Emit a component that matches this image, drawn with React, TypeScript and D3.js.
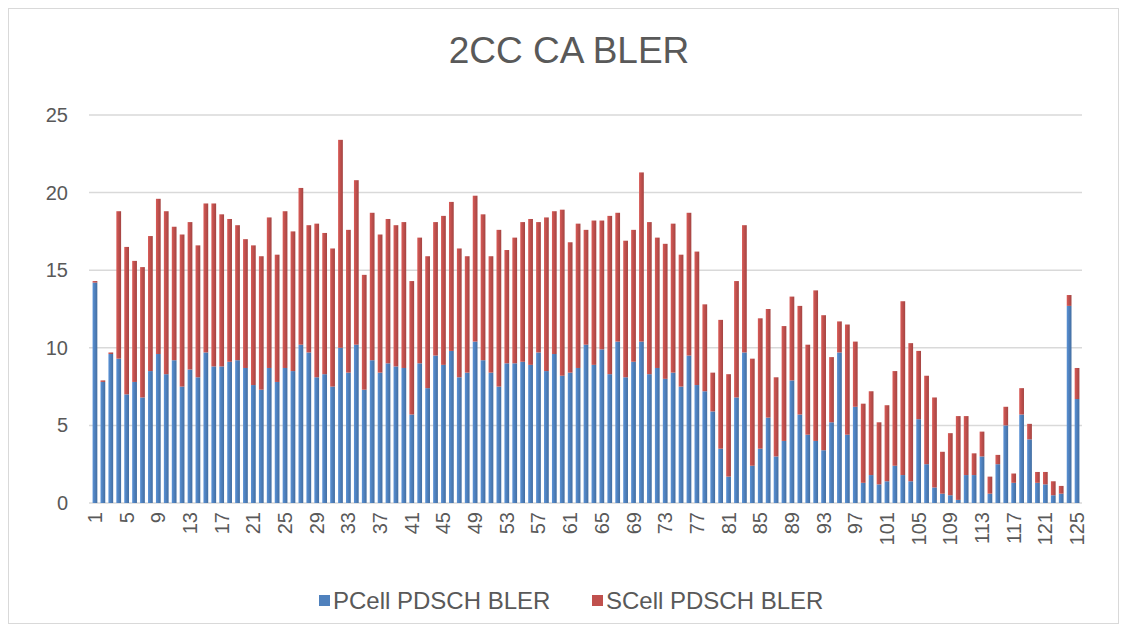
import React, { useEffect, useRef } from "react";
import * as d3 from "d3";

const categories: string[] = Array.from({ length: 125 }, (_, i) => String(i + 1));

const pcell: number[] = [
  14.2, 7.8, 9.6, 9.3, 7.0, 7.8, 6.8, 8.5, 9.6, 8.3,
  9.2, 7.5, 8.6, 8.1, 9.7, 8.8, 8.8, 9.1, 9.2, 8.7,
  7.6, 7.3, 8.7, 7.8, 8.7, 8.5, 10.2, 9.7, 8.1, 8.3,
  7.5, 10.0, 8.4, 10.2, 7.3, 9.2, 8.4, 9.0, 8.8, 8.7,
  5.7, 9.0, 7.4, 9.5, 8.9, 9.8, 8.1, 8.4, 10.4, 9.2,
  8.4, 7.5, 9.0, 9.0, 9.1, 8.9, 9.7, 8.5, 9.6, 8.2,
  8.4, 8.7, 10.2, 8.9, 9.9, 8.3, 10.4, 8.1, 9.1, 10.4,
  8.3, 8.7, 8.0, 8.4, 7.5, 9.5, 7.6, 7.2, 5.9, 3.5,
  1.7, 6.8, 9.7, 2.4, 3.5, 5.5, 3.0, 4.0, 7.9, 5.7,
  4.4, 4.0, 3.4, 5.2, 9.7, 4.4, 6.2, 1.3, 1.8, 1.2,
  1.4, 2.4, 1.8, 1.4, 5.4, 2.5, 1.0, 0.6, 0.5, 0.2,
  1.8, 1.8, 3.0, 0.6, 2.5, 5.0, 1.3, 5.7, 4.1, 1.3,
  1.2, 0.5, 0.6, 12.7, 6.7,
];

const scell: number[] = [
  0.1, 0.1, 0.1, 9.5, 9.5, 7.8, 8.4, 8.7, 10.0, 10.5,
  8.6, 9.8, 9.5, 8.5, 9.6, 10.5, 9.8, 9.2, 8.7, 8.3,
  9.0, 8.6, 9.7, 8.2, 10.1, 9.0, 10.1, 8.2, 9.9, 9.1,
  8.9, 13.4, 9.2, 10.6, 7.4, 9.5, 8.9, 9.3, 9.1, 9.4,
  8.6, 8.1, 8.5, 8.6, 9.6, 9.6, 8.3, 7.5, 9.4, 9.4,
  7.5, 10.1, 7.3, 8.1, 9.0, 9.4, 8.4, 9.9, 9.2, 10.7,
  8.4, 9.3, 7.4, 9.3, 8.3, 10.2, 8.3, 8.8, 8.5, 10.9,
  9.8, 8.4, 8.7, 9.6, 8.5, 9.2, 8.6, 5.6, 2.5, 8.3,
  6.6, 7.5, 8.2, 6.9, 8.4, 7.0, 5.1, 7.4, 5.4, 7.0,
  5.8, 9.7, 8.7, 4.2, 2.0, 7.1, 4.2, 5.1, 5.4, 4.0,
  4.9, 6.1, 11.2, 8.9, 4.4, 5.7, 5.8, 2.7, 4.0, 5.4,
  3.8, 1.4, 1.6, 1.1, 0.6, 1.2, 0.6, 1.7, 1.0, 0.7,
  0.8, 0.9, 0.5, 0.7, 2.0,
];

const yTicks: number[] = [0, 5, 10, 15, 20, 25];
const seriesNames: string[] = ["PCell PDSCH BLER", "SCell PDSCH BLER"];
const title = "2CC CA BLER";

const W = 1127;
const H = 632;
const FONT = "'Liberation Sans', Arial, sans-serif";
const TEXT = "#595959";

export default function App() {
  const ref = useRef<SVGSVGElement | null>(null);

  useEffect(() => {
    const svg = d3.select(ref.current);
    svg.selectAll("*").remove();

    const defs = svg.append("defs");
    const mkGrad = (id: string, c: string) => {
      const g = defs.append("linearGradient").attr("id", id).attr("x1", "0").attr("x2", "1").attr("y1", "0").attr("y2", "0");
      const base = d3.color(c)!;
      g.append("stop").attr("offset", "0%").attr("stop-color", base.brighter(0.35).toString());
      g.append("stop").attr("offset", "45%").attr("stop-color", c);
      g.append("stop").attr("offset", "100%").attr("stop-color", base.darker(0.45).toString());
    };
    mkGrad("gBlue", "#4f81bd");
    mkGrad("gRed", "#c0504d");

    // chart border
    svg.append("rect")
      .attr("x", 8.5).attr("y", 8.5).attr("width", 1110).attr("height", 615)
      .attr("fill", "#ffffff").attr("stroke", "#d9d9d9").attr("stroke-width", 1);

    const x = d3.scaleBand<string>().domain(categories).range([91, 1081]).paddingInner(0.4).paddingOuter(0.2);
    const y = d3.scaleLinear().domain([0, 25]).range([503, 115]);

    // gridlines
    svg.append("g").selectAll("line").data(yTicks).join("line")
      .attr("x1", 89).attr("x2", 1082)
      .attr("y1", (d) => y(d)).attr("y2", (d) => y(d))
      .attr("stroke", "#d9d9d9").attr("stroke-width", 1.5);

    // y labels
    svg.append("g").selectAll("text").data(yTicks).join("text")
      .attr("x", 68).attr("y", (d) => y(d)).attr("dy", "0.35em")
      .attr("text-anchor", "end").attr("font-family", FONT).attr("font-size", 20)
      .attr("fill", TEXT).text((d) => String(d));

    // bars
    const rows = categories.map((c, i) => ({ c, p: pcell[i], s: scell[i] }));
    const bw = x.bandwidth();
    svg.append("g").selectAll("rect").data(rows).join("rect")
      .attr("x", (d) => x(d.c)!).attr("width", bw)
      .attr("y", (d) => y(d.p)).attr("height", (d) => y(0) - y(d.p))
      .attr("fill", "url(#gBlue)");
    svg.append("g").selectAll("rect").data(rows).join("rect")
      .attr("x", (d) => x(d.c)!).attr("width", bw)
      .attr("y", (d) => y(d.p + d.s)).attr("height", (d) => y(d.p) - y(d.p + d.s))
      .attr("fill", "url(#gRed)");

    // x labels
    const xLabs = categories.filter((_, i) => i % 4 === 0);
    svg.append("g").selectAll("text").data(xLabs).join("text")
      .attr("transform", (d) => `translate(${x(d)! + bw / 2},512) rotate(-90)`)
      .attr("dy", "0.35em").attr("text-anchor", "end")
      .attr("font-family", FONT).attr("font-size", 20).attr("fill", TEXT)
      .text((d) => d);

    // title
    svg.append("text").attr("x", 569).attr("y", 63).attr("text-anchor", "middle")
      .attr("font-family", FONT).attr("font-size", 37).attr("fill", TEXT).text(title);

    // legend
    const legX = [319, 592];
    const colors = ["#4f81bd", "#c0504d"];
    const lg = svg.append("g");
    seriesNames.forEach((n, i) => {
      lg.append("rect").attr("x", legX[i]).attr("y", 595).attr("width", 11).attr("height", 11).attr("fill", colors[i]);
      lg.append("text").attr("x", legX[i] + 14).attr("y", 609)
        .attr("font-family", FONT).attr("font-size", 24).attr("fill", TEXT).text(n);
    });
  }, []);

  return (
    <svg ref={ref} width={W} height={H}
      style={{ position: "absolute", left: 0, top: 0, display: "block", background: "#fff" }} />
  );
}
